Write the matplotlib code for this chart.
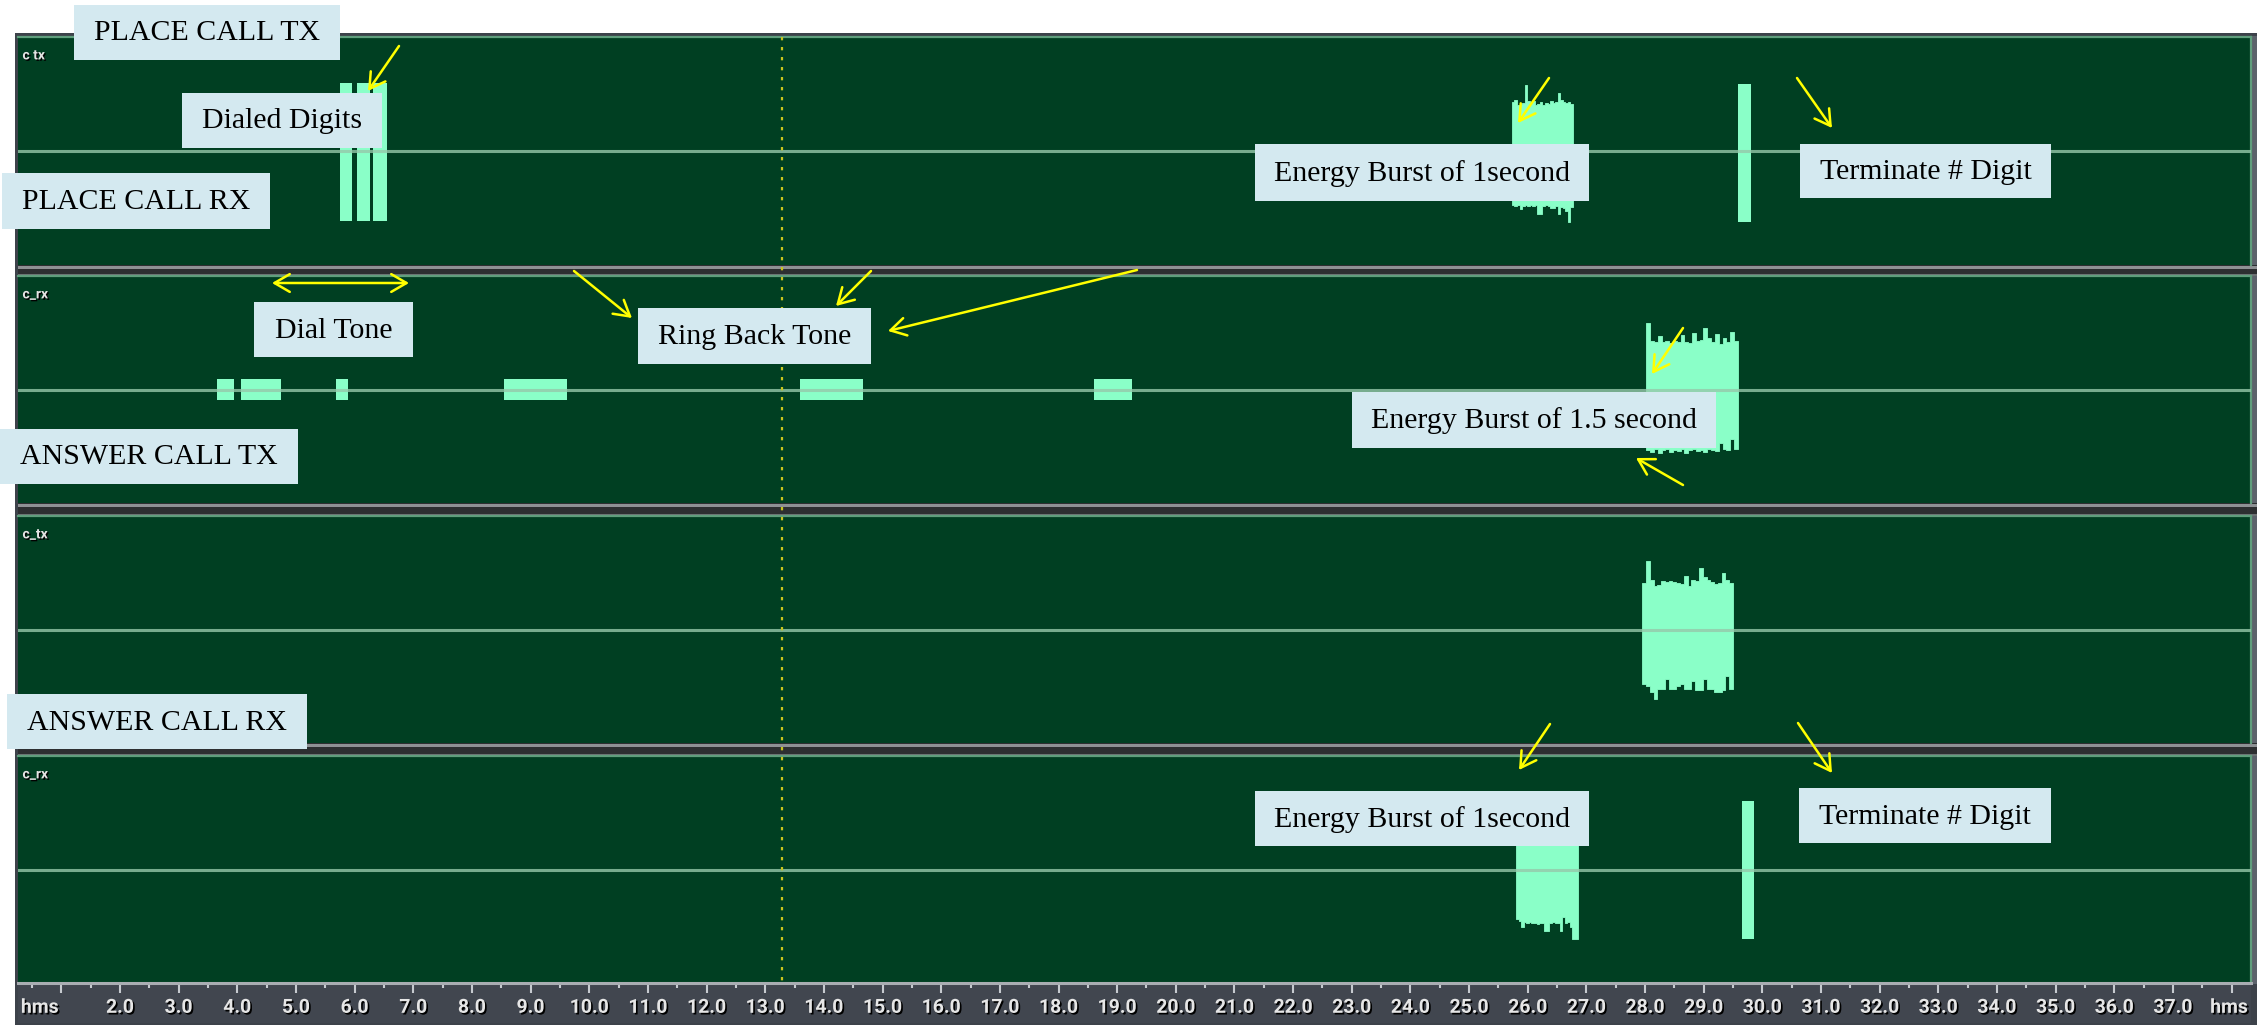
import numpy as np
import matplotlib
matplotlib.use("Agg")
import matplotlib.pyplot as plt
import matplotlib.patheffects as pe
from matplotlib.patches import Rectangle
from matplotlib.transforms import blended_transform_factory

# ------------------------------------------------------------------ data
channel_names = ["c tx", "c_rx", "c_tx", "c_rx"]

# constant-level tone pulses per channel: (start s, end s, top, bottom)
place_tx_pulses = [(5.75, 5.95, 0.60, -0.61), (6.04, 6.26, 0.60, -0.61),
                   (6.31, 6.55, 0.60, -0.61), (29.58, 29.80, 0.59, -0.62)]
place_rx_pulses = [(3.65, 3.94, 0.09, -0.09), (4.06, 4.74, 0.09, -0.09),
                   (5.68, 5.89, 0.09, -0.09), (8.55, 9.62, 0.09, -0.09),
                   (13.59, 14.67, 0.09, -0.09), (18.61, 19.25, 0.09, -0.09)]
answer_tx_pulses = []
answer_rx_pulses = [(29.65, 29.86, 0.60, -0.61)]

# noisy energy bursts: time span plus stepped upper / lower envelope
place_tx_burst_span = (25.73, 26.77)
place_tx_burst_hi = [0.43, 0.45, 0.40, 0.41, 0.42, 0.58, 0.44, 0.42, 0.44, 0.40, 0.41, 0.43,
                     0.40, 0.42, 0.41, 0.44, 0.42, 0.43, 0.51, 0.45, 0.43, 0.42, 0.43, 0.41]
place_tx_burst_lo = [-0.47, -0.48, -0.47, -0.51, -0.48, -0.47, -0.48, -0.47, -0.48, -0.47, -0.55, -0.55,
                     -0.48, -0.47, -0.48, -0.50, -0.50, -0.48, -0.55, -0.49, -0.50, -0.53, -0.62, -0.49]

place_rx_burst_span = (28.02, 29.58)
place_rx_burst_hi = [0.59, 0.43, 0.42, 0.47, 0.42, 0.43, 0.41, 0.43, 0.42, 0.48, 0.42, 0.41,
                     0.50, 0.43, 0.44, 0.54, 0.45, 0.42, 0.49, 0.40, 0.45, 0.42, 0.51, 0.43]
place_rx_burst_lo = [-0.53, -0.55, -0.52, -0.56, -0.53, -0.52, -0.55, -0.53, -0.54, -0.52, -0.56, -0.53,
                     -0.52, -0.54, -0.53, -0.55, -0.52, -0.53, -0.54, -0.47, -0.52, -0.53, -0.44, -0.52]

answer_tx_burst_span = (27.95, 29.50)
answer_tx_burst_hi = [0.41, 0.60, 0.44, 0.38, 0.39, 0.43, 0.42, 0.43, 0.42, 0.41, 0.40, 0.47,
                      0.38, 0.44, 0.43, 0.54, 0.46, 0.44, 0.42, 0.40, 0.41, 0.50, 0.44, 0.41]
answer_tx_burst_lo = [-0.48, -0.50, -0.55, -0.61, -0.52, -0.52, -0.44, -0.52, -0.52, -0.50, -0.48, -0.52,
                      -0.52, -0.45, -0.53, -0.53, -0.44, -0.52, -0.52, -0.55, -0.55, -0.53, -0.41, -0.52]

answer_rx_burst_span = (25.80, 26.85)
answer_rx_burst_hi = [0.44, 0.47, 0.43, 0.45, 0.42, 0.46, 0.44, 0.43, 0.45, 0.42, 0.44, 0.46,
                      0.43, 0.45, 0.44, 0.42, 0.45, 0.43, 0.46, 0.44, 0.42, 0.45, 0.43, 0.44]
answer_rx_burst_lo = [-0.44, -0.45, -0.51, -0.46, -0.47, -0.46, -0.47, -0.47, -0.48, -0.47, -0.47, -0.54,
                      -0.54, -0.47, -0.46, -0.47, -0.47, -0.54, -0.42, -0.47, -0.46, -0.51, -0.61, -0.61]

cursor_time = 13.29

# time ruler
ruler_major = list(range(1, 39))
ruler_minor = [s + 0.5 for s in range(0, 38)]
ruler_labelled = list(range(2, 38))
ruler_labels = [f"{s:.1f}" for s in ruler_labelled]
ruler_unit = "hms"

# ---------------------------------------------------------------- styling
W, H, DPI = 2267, 1026, 100
T0, T1 = 0.261, 38.33
BG_GREEN = "#003f22"
WAVE = "#8affc8"
BASELINE = "#96c8aa"
EDGE_GREEN = "#5f9e7c"
BOX = "#d4e9f0"
YELLOW = "#ffff00"
SERIF = ["Liberation Serif", "DejaVu Serif"]
UI_FONT = ["Roboto", "DejaVu Sans"]

fig = plt.figure(figsize=(W / DPI, H / DPI), dpi=DPI, facecolor="white")


def px_axes(x0, y0, x1, y1, **kw):
    """Axes placed by pixel box (origin at top-left)."""
    return fig.add_axes([x0 / W, 1 - y1 / H, (x1 - x0) / W, (y1 - y0) / H], **kw)


# frame and separators behind the panels
back = px_axes(0, 0, W, H, zorder=0)
back.set_xlim(0, W)
back.set_ylim(H, 0)
back.axis("off")
back.add_patch(Rectangle((15, 33), 2242, 992, facecolor="#3d424a", edgecolor="none"))
back.add_patch(Rectangle((2251, 36), 6, 948, facecolor="#5c626b", edgecolor="none"))

panel_rows = [(37, 265), (276, 503), (516, 743), (756, 983)]
for (top_prev, bot_prev), (top_next, _) in zip(panel_rows[:-1], panel_rows[1:]):
    y0, y1 = bot_prev, top_next
    back.add_patch(Rectangle((18, y0), 2239, y1 - y0, facecolor="#2d2f31", edgecolor="none"))
    back.add_patch(Rectangle((18, y0 + 1), 2239, 2.5, facecolor="#8e9194", edgecolor="none"))
    back.add_patch(Rectangle((18, y1 - 2.5), 2239, 2, facecolor="#6c7072", edgecolor="none"))

pulses = [place_tx_pulses, place_rx_pulses, answer_tx_pulses, answer_rx_pulses]
bursts = [
    (place_tx_burst_span, place_tx_burst_hi, place_tx_burst_lo),
    (place_rx_burst_span, place_rx_burst_hi, place_rx_burst_lo),
    (answer_tx_burst_span, answer_tx_burst_hi, answer_tx_burst_lo),
    (answer_rx_burst_span, answer_rx_burst_hi, answer_rx_burst_lo),
]

shadow = [pe.withSimplePatchShadow(offset=(1, -1), shadow_rgbFace="black", alpha=1.0)]

panels = []
for i, (y0, y1) in enumerate(panel_rows):
    ax = px_axes(18, y0, 2251, y1, zorder=1)
    ax.set_facecolor(BG_GREEN)
    ax.set_xlim(T0, T1)
    ax.set_ylim(-1, 1)
    ax.set_xticks([])
    ax.set_yticks([])
    for side in ("left", "bottom"):
        ax.spines[side].set_visible(False)
    for side in ("top", "right"):
        ax.spines[side].set_color(EDGE_GREEN)
        ax.spines[side].set_linewidth(1.6)

    for (s, e, hi, lo) in pulses[i]:
        ax.fill_between([s, e], [lo, lo], [hi, hi], color=WAVE, lw=0, zorder=2)

    (bs, be), hi, lo = bursts[i]
    edges = np.linspace(bs, be, len(hi) + 1)
    ax.fill_between(edges, lo + [lo[-1]], hi + [hi[-1]], step="post",
                    color=WAVE, lw=0.6, edgecolor=WAVE, zorder=2)

    ax.axhline(0, color=BASELINE, lw=2.2, alpha=0.8, zorder=3)

    ax.text(0.002, 0.95, channel_names[i], transform=ax.transAxes, ha="left", va="top",
            fontsize=10, fontweight="bold", color="#e4e4e4", family=UI_FONT,
            path_effects=shadow, zorder=4)
    panels.append(ax)

# time ruler
ruler = px_axes(18, 983, 2251, 1023, zorder=1)
ruler.set_facecolor("#41464f")
ruler.set_xlim(T0, T1)
ruler.set_ylim(0, 1)
ruler.set_yticks([])
ruler.set_xticks(ruler_major)
ruler.set_xticks(ruler_minor, minor=True)
ruler.tick_params(axis="x", which="both", top=True, bottom=False, labelbottom=False,
                  labeltop=False, direction="in", color="#c6cacf", width=1.5)
ruler.tick_params(axis="x", which="major", length=7.5)
ruler.tick_params(axis="x", which="minor", length=3.5)
for side in ("left", "right", "bottom"):
    ruler.spines[side].set_visible(False)
ruler.spines["top"].set_color("#a9adb2")
ruler.spines["top"].set_linewidth(2.2)

rt = blended_transform_factory(ruler.transData, ruler.transAxes)
ruler_shadow = [pe.withSimplePatchShadow(offset=(1.2, -1.2), shadow_rgbFace="black", alpha=1.0)]
RULER_SIZE = 14
for s, lab in zip(ruler_labelled, ruler_labels):
    ruler.text(s, 0.38, lab, transform=rt, ha="center", va="center", fontsize=RULER_SIZE,
               fontweight="bold", color="#e6e6e6", family=UI_FONT, path_effects=ruler_shadow)
ruler.text(T0 + 0.05, 0.38, ruler_unit, transform=rt, ha="left", va="center", fontsize=RULER_SIZE,
           fontweight="bold", color="#e6e6e6", family=UI_FONT, path_effects=ruler_shadow)
ruler.text(T1 - 0.05, 0.38, ruler_unit, transform=rt, ha="right", va="center", fontsize=RULER_SIZE,
           fontweight="bold", color="#e6e6e6", family=UI_FONT, path_effects=ruler_shadow)

# annotation layer in pixel coordinates
ov = px_axes(0, 0, W, H, zorder=10)
ov.set_xlim(0, W)
ov.set_ylim(H, 0)
ov.axis("off")
ov.patch.set_alpha(0)

# play cursor spanning all channels
ct = blended_transform_factory(panels[0].transData, ov.transData)
ov.plot([cursor_time, cursor_time], [37, 983], transform=ct, color="#c8c41e",
        lw=1.6, ls=(0, (1.5, 3)), zorder=1)

label_boxes = [
    ("PLACE CALL TX", (74, 5, 340, 60)),
    ("Dialed Digits", (182, 93, 382, 148)),
    ("PLACE CALL RX", (2, 173, 270, 229)),
    ("Energy Burst of 1second", (1255, 144, 1589, 201)),
    ("Terminate # Digit", (1800, 144, 2051, 198)),
    ("Dial Tone", (254, 302, 413, 357)),
    ("Ring Back Tone", (638, 308, 871, 364)),
    ("ANSWER CALL TX", (0, 429, 298, 484)),
    ("Energy Burst of 1.5 second", (1352, 392, 1716, 448)),
    ("ANSWER CALL RX", (7, 694, 307, 749)),
    ("Energy Burst of 1second", (1255, 791, 1589, 846)),
    ("Terminate # Digit", (1799, 788, 2051, 843)),
]
for text, (x0, y0, x1, y1) in label_boxes:
    ov.add_patch(Rectangle((x0, y0), x1 - x0, y1 - y0, facecolor=BOX,
                           edgecolor="none", zorder=3))
    ov.text((x0 + x1) / 2, (y0 + y1) / 2 + 1, text, ha="center", va="center",
            fontsize=21.5, family=SERIF, color="black", zorder=4)

arrows = [
    ((399, 46), (368, 91), "->"),
    ((1549, 78), (1518, 123), "->"),
    ((1797, 78), (1832, 128), "->"),
    ((272, 283), (409, 283), "<->"),
    ((574, 271), (632, 318), "->"),
    ((871, 271), (836, 306), "->"),
    ((1137, 270), (888, 331), "->"),
    ((1683, 328), (1652, 374), "->"),
    ((1683, 485), (1636, 458), "->"),
    ((1550, 724), (1519, 770), "->"),
    ((1798, 723), (1832, 773), "->"),
]
for start, end, style in arrows:
    ov.annotate("", xy=end, xytext=start, zorder=5,
                arrowprops=dict(arrowstyle=f"{style},head_length=0.55,head_width=0.32",
                                color=YELLOW, lw=1.8, shrinkA=0, shrinkB=0,
                                mutation_scale=20))

fig.savefig("out.png", dpi=DPI, facecolor="white")
